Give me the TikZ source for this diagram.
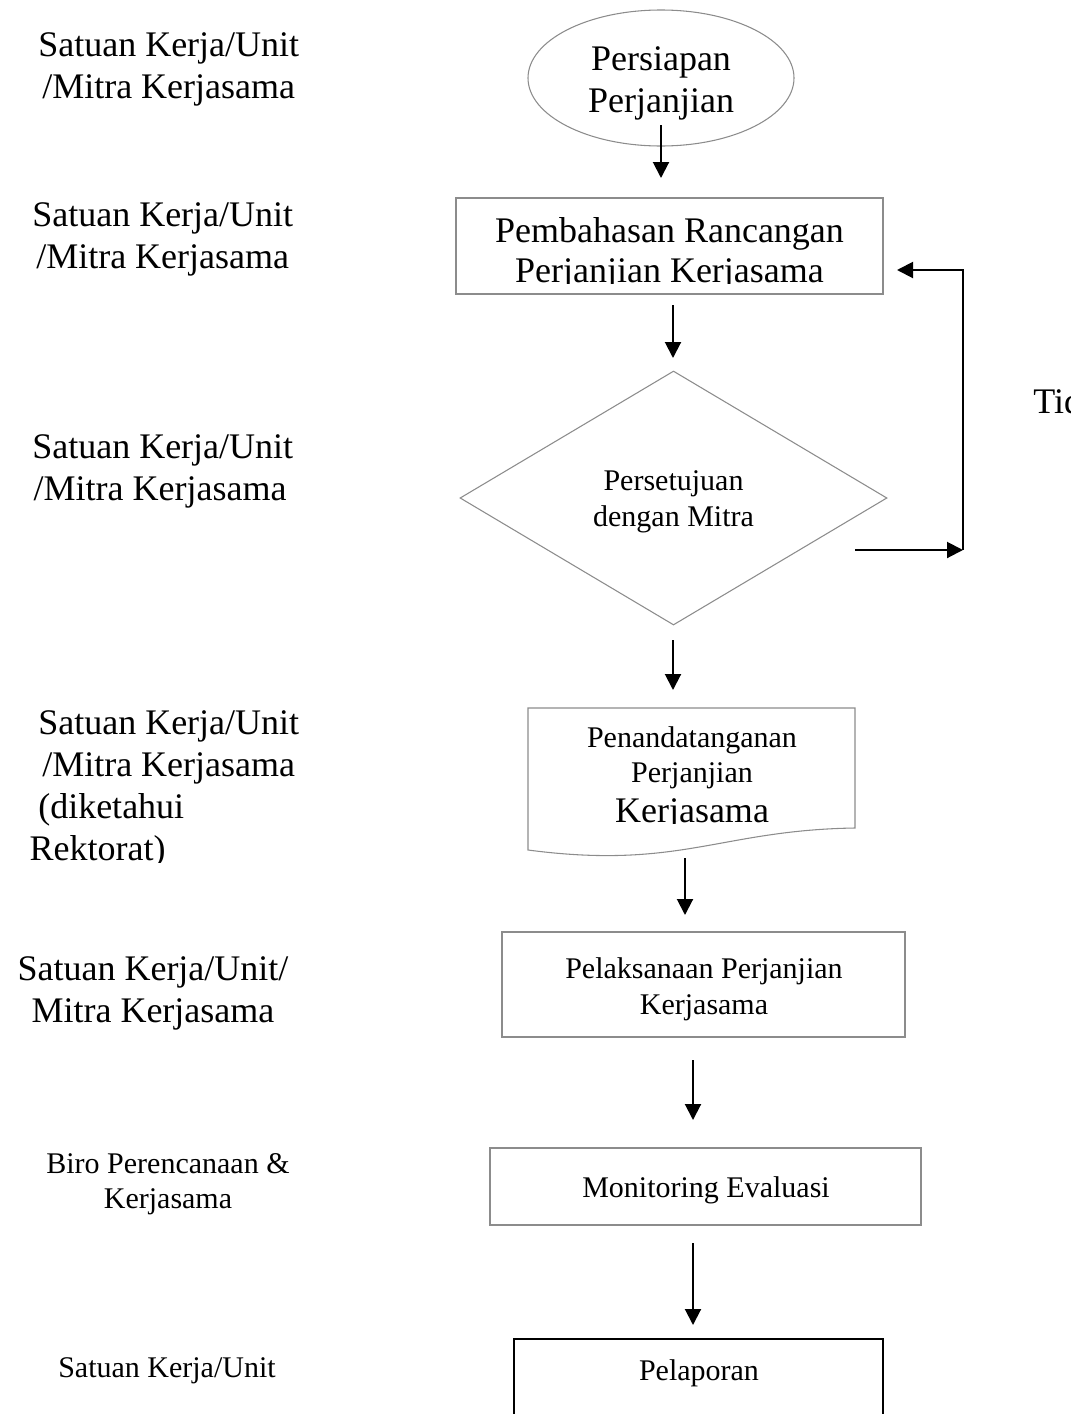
\documentclass[tikz,border=0pt]{standalone}
\usepackage{fontspec}
\setmainfont{Liberation Serif}
\usetikzlibrary{shapes.geometric,arrows.meta}
\begin{document}
\begin{tikzpicture}[x=0.75pt,y=-0.75pt,
  lbl/.style={inner sep=0pt,font=\fontsize{27}{31.5}\selectfont,align=left},
  sml/.style={inner sep=0pt,font=\fontsize{22.5}{26.25}\selectfont,align=center},
  big/.style={inner sep=0pt,font=\fontsize{27}{30}\selectfont,align=center},
  shp/.style={draw=black!45,line width=0.8pt,inner sep=0pt},
  arr/.style={-{Triangle[length=12pt,width=12pt]},line width=1.5pt}]
\useasboundingbox (0,0) rectangle (1089,1414);

% left labels
\node[lbl,anchor=west] (l1) at (38,69) {Satuan Kerja/Unit\\\hspace*{3pt}/Mitra Kerjasama};
\node[lbl,anchor=west] (l2) at (32,239) {Satuan Kerja/Unit\\\hspace*{3pt}/Mitra Kerjasama};
\node[lbl,anchor=west] (l3) at (32,471) {Satuan Kerja/Unit\\\hspace*{1pt}/Mitra Kerjasama};
\begin{scope}
\clip (0,690) rectangle (400,862);
\node[lbl,anchor=west] (l4) at (38,789) {Satuan Kerja/Unit\\\hspace*{3pt}/Mitra Kerjasama\\(diketahui\\\hspace*{-6.5pt}Rektorat)};
\end{scope}
\node[lbl,align=center] (l5) at (153,993) {Satuan Kerja/Unit/\\Mitra Kerjasama};
\node[sml] (l6) at (168,1184) {Biro Perencanaan \&\\Kerjasama};
\node[sml] (l7) at (167,1371) {Satuan Kerja/Unit};

% flow shapes
\node[shp,ellipse,minimum width=199.5pt,minimum height=102pt,font=\fontsize{27}{31.5}\selectfont,align=center] (ell) at (661,78) {};
\node[big,font=\fontsize{27}{31.5}\selectfont] (t1) at (661,83) {Persiapan\\Perjanjian};

\node[shp,minimum width=320.25pt,minimum height=72pt] (b2) at (669.5,246) {};
\begin{scope}
\clip (456,198) rectangle (883,283);
\node[big] (t2) at (669.5,254) {Pembahasan Rancangan\\Perjanjian Kerjasama};
\end{scope}

\node[shp,diamond,minimum width=320.25pt,minimum height=190.5pt] (dia) at (673.5,498) {};
\node[sml,font=\fontsize{22.5}{27}\selectfont] (t3) at (673.5,502) {Persetujuan\\dengan Mitra};

\node[inner sep=0pt,minimum width=245.25pt,minimum height=105pt] (doc) at (691.5,783) {};
\draw[draw=black!45,line width=0.8pt] (528,708) -- (855,708) -- (855,828)
  .. controls (720,830) and (680,870) .. (528,850) -- cycle;
\node[sml] (t4) at (692,757.5) {Penandatanganan\\Perjanjian};
\begin{scope}
\clip (500,790) rectangle (860,823);
\node[big,anchor=base] (t4b) at (692,822) {Kerjasama};
\end{scope}

\node[shp,minimum width=302.25pt,minimum height=78.75pt] (b5) at (703.5,984.5) {};
\node[sml,font=\fontsize{22.5}{27}\selectfont] (t5) at (704,989) {Pelaksanaan Perjanjian\\Kerjasama};

\node[shp,minimum width=323.25pt,minimum height=57.75pt] (b6) at (705.5,1186.5) {};
\node[sml] (t6) at (706,1190) {Monitoring Evaluasi};

\node[draw=black,line width=1.5pt,inner sep=0pt,minimum width=276.75pt,minimum height=75.75pt] (b7) at (698.5,1389.5) {};
\node[sml] (t7) at (699,1373) {Pelaporan};

\begin{scope}
\clip (1000,360) rectangle (1070,440);
\node[lbl,anchor=west] (tidak) at (1033,401) {Tidak};
\end{scope}

% connectors
\coordinate (a1s) at (661,125); \coordinate (a1e) at (661,178);
\coordinate (a2s) at (673,305); \coordinate (a2e) at (673,358);
\coordinate (a3s) at (673,640); \coordinate (a3e) at (673,690);
\coordinate (a4s) at (685,858); \coordinate (a4e) at (685,915);
\coordinate (a5s) at (693,1060); \coordinate (a5e) at (693,1120);
\coordinate (a6s) at (693,1243); \coordinate (a6e) at (693,1325);
\coordinate (lp1) at (855,550); \coordinate (lp2) at (963,550);
\coordinate (lp3) at (963,270); \coordinate (lp4) at (897,270);
\draw[arr] (a1s) -- (a1e);
\draw[arr] (a2s) -- (a2e);
\draw[arr] (a3s) -- (a3e);
\draw[arr] (a4s) -- (a4e);
\draw[arr] (a5s) -- (a5e);
\draw[arr] (a6s) -- (a6e);
\draw[arr] (lp1) -- (lp2);
\draw[arr] (lp2) -- (lp3) -- (lp4);
\end{tikzpicture}
\end{document}
